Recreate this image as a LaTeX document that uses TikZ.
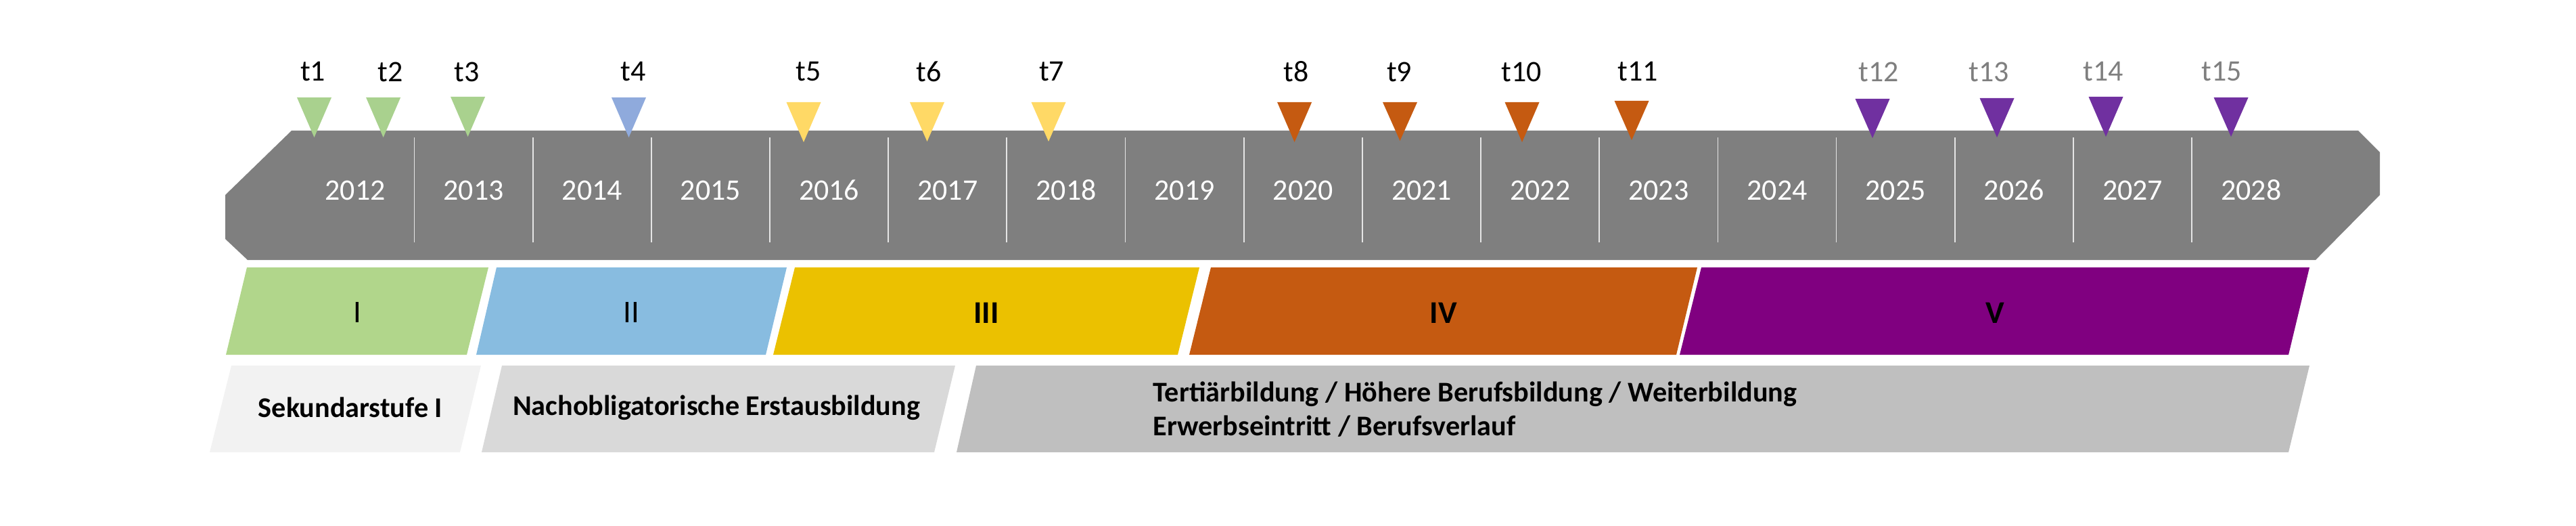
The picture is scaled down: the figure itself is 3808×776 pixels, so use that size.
\documentclass[tikz,border=0pt]{standalone}
\usepackage{fontspec}
\setmainfont{Carlito}
\usetikzlibrary{positioning}
\definecolor{bandgray}{HTML}{7F7F7F}
\definecolor{mkgreen}{HTML}{A9D18E}
\definecolor{mkblue}{HTML}{8FAADC}
\definecolor{mkyellow}{HTML}{FFD966}
\definecolor{mkorange}{HTML}{C55A11}
\definecolor{mkpurple}{HTML}{7030A0}
\definecolor{phaseI}{HTML}{B1D68B}
\definecolor{phaseII}{HTML}{88BCE0}
\definecolor{phaseIII}{HTML}{EBC100}
\definecolor{phaseIV}{HTML}{C55A11}
\definecolor{phaseV}{HTML}{800080}
\definecolor{stageA}{HTML}{F2F2F2}
\definecolor{stageB}{HTML}{D9D9D9}
\definecolor{stageC}{HTML}{BFBFBF}

\begin{document}
\begin{tikzpicture}[x=0.1mm,y=-0.1mm,
      yearlabel/.style={text=white,font=\fontsize{12.5}{15}\selectfont},
      marklabel/.style={font=\fontsize{12.5}{15}\selectfont},
      divider/.style={draw=white!80!bandgray,line width=0.5pt},
      phaselabel/.style={font=\fontsize{13.3}{16}\selectfont},
      stagelabel/.style={font=\bfseries\fontsize{12}{14.2}\selectfont,align=left}
    ]
    \useasboundingbox (0,0) rectangle (3808,776);

    % Time band
    \fill[bandgray] (431,193) -- (3486,193) -- (3518,225) -- (3518,288)
      -- (3423,384) -- (366,384) -- (333,353) -- (333,288) -- cycle;
    \foreach \k in {0,...,15}
      \draw[divider] ({612.5+175.17*\k},203) -- ++(0,155);
    \foreach \yr [count=\i from 0] in {2012,...,2028}
      \node[yearlabel] (y\yr) at ({525+175.17*\i},281) {\yr};

    % Measurement points
    \foreach \xt/\xl/\nm/\col/\ty/\tp/\tc in {
        464.5/462.6/t1/mkgreen/144/203/black,
        566.6/577/t2/mkgreen/144/203/black,
        691.6/690/t3/mkgreen/143/202/black,
        929.5/936/t4/mkblue/144/203/black,
        1188/1195/t5/mkyellow/151/210/black,
        1370.5/1373/t6/mkyellow/151/209/black,
        1550/1554.6/t7/mkyellow/151/209/black,
        1913.6/1916/t8/mkorange/151/210/black,
        2069.5/2068.6/t9/mkorange/151/208/black,
        2250/2249/t10/mkorange/151/210/black,
        2412/2421/t11/mkorange/149/207/black,
        2768/2777/t12/mkpurple/146/204/bandgray,
        2952/2940/t13/mkpurple/145/203/bandgray,
        3113/3109/t14/mkpurple/143/202/bandgray,
        3298/3284/t15/mkpurple/144/202/bandgray}{
      \fill[\col] (\xt-25.5,\ty) -- (\xt+25.5,\ty) -- (\xt,\tp) -- cycle;
      \node[marklabel,text=\tc] (\nm) at (\xl,106) {\nm};
    }

    % Phases
    \fill[phaseI]   (334,524) -- (365,395) -- (722,395) -- (690,524) -- cycle;
    \fill[phaseII]  (704,524) -- (734,395) -- (1163,395) -- (1132,524) -- cycle;
    \fill[phaseIII] (1143,524) -- (1175,395) -- (1773,395) -- (1741,524) -- cycle;
    \fill[phaseIV]  (1758,524) -- (1790,395) -- (2509,395) -- (2478,524) -- cycle;
    \fill[phaseV]   (2483,524) -- (2515,395) -- (3414,395) -- (3383,524) -- cycle;
    \node[phaselabel] (pI) at (528,462) {I};
    \node[phaselabel] (pII) at (933,462) {II};
    \node[phaselabel,font=\bfseries\fontsize{13.3}{16}\selectfont] (pIII) at (1458,462) {III};
    \node[phaselabel,font=\bfseries\fontsize{13.3}{16}\selectfont] (pIV) at (2134,462) {IV};
    \node[phaselabel,font=\bfseries\fontsize{13.3}{16}\selectfont] (pV) at (2949,462) {V};

    % Education stages
    \fill[stageA] (310,668) -- (342,540) -- (711,540) -- (680,668) -- cycle;
    \fill[stageB] (712,668) -- (742,540) -- (1412,540) -- (1381,668) -- cycle;
    \fill[stageC] (1414,668) -- (1443,540) -- (3414,540) -- (3383,668) -- cycle;
    \node[stagelabel] (sek) at (518,602) {Sekundarstufe I};
    \node[stagelabel] (nach) at (1059,602) {Nachobligatorische Erstausbildung};
    \node[stagelabel,anchor=west,inner sep=0pt] (tert) at (1704,605)
      {Tertiärbildung / Höhere Berufsbildung / Weiterbildung\\
       Erwerbseintritt / Berufsverlauf};

  \end{tikzpicture}
\end{document}
